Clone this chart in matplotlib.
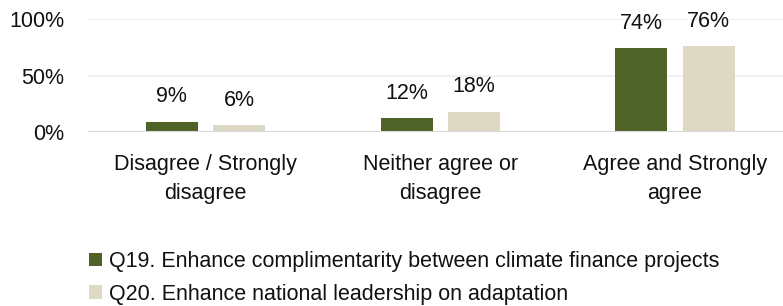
import matplotlib
matplotlib.use('Agg')
import matplotlib.pyplot as plt
from matplotlib import font_manager
import numpy as np

# fuente parecida a Calibri
nombres = set(f.name for f in font_manager.fontManager.ttflist)
if 'Liberation Sans Narrow' in nombres:
    plt.rcParams['font.family'] = ['Liberation Sans Narrow', 'DejaVu Sans']
else:
    plt.rcParams['font.family'] = ['Liberation Sans', 'DejaVu Sans']

categorias = ['Disagree / Strongly\ndisagree', 'Neither agree or\ndisagree', 'Agree and Strongly\nagree']
q19 = [9, 12, 74]
q20 = [6, 18, 76]
etiquetas = ['Q19. Enhance complimentarity between climate finance projects',
             'Q20. Enhance national leadership on adaptation']

verde = '#4F6228'
beige = '#DDD9C4'
tam = 15.5

fig = plt.figure(figsize=(7.83, 3.06), dpi=100)
ax = fig.add_axes([88/783, 1 - 132/306, 1 - 88/783, 113/306])

x = np.arange(len(categorias))
ancho = 0.222
b1 = ax.bar(x - 0.143, q19, ancho, color=verde, label=etiquetas[0], zorder=3)
b2 = ax.bar(x + 0.143, q20, ancho, color=beige, label=etiquetas[1], zorder=3)

for barras in (b1, b2):
    for b in barras:
        h = b.get_height()
        ax.annotate(f'{h:.0f}%', (b.get_x() + b.get_width() / 2, h),
                    xytext=(0, 18), textcoords='offset points',
                    ha='center', va='center', fontsize=tam, color='#111111')

ax.set_xlim(-0.5, 2.46)
ax.set_ylim(0, 100)
ax.set_yticks([0, 50, 100])
ax.set_yticklabels(['0%', '50%', '100%'], fontsize=tam, color='#111111')
ax.set_xticks(x)
ax.set_xticklabels(categorias, fontsize=tam, color='#111111', linespacing=1.5)
ax.tick_params(axis='both', length=0)
ax.tick_params(axis='x', pad=16)
ax.tick_params(axis='y', pad=17)

for s in ['top', 'right', 'left', 'bottom']:
    ax.spines[s].set_visible(False)
ax.axhline(0, color='#D9D9D9', lw=1.5, zorder=4)
for y in (50, 100):
    ax.axhline(y, color='#EEEEEE', lw=1.2, zorder=1)

fig.legend(handles=[b1, b2], loc='upper left', bbox_to_anchor=(89/783, 1 - 251/306),
           frameon=False, fontsize=tam, handlelength=0.6, handleheight=0.6,
           handletextpad=0.35, labelspacing=0.55, borderpad=0, borderaxespad=0,
           labelcolor='#111111')

fig.savefig('out.png', dpi=100)
